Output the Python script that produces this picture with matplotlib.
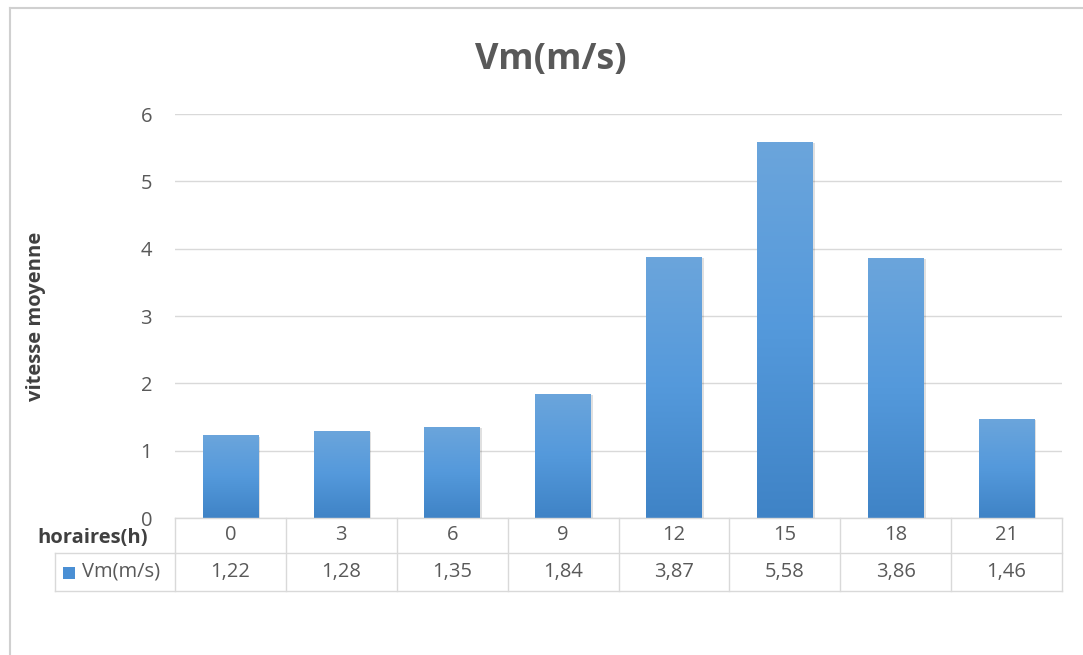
import numpy as np
import matplotlib
matplotlib.use("Agg")
import matplotlib.pyplot as plt
from matplotlib.patches import Rectangle
from matplotlib.lines import Line2D
from matplotlib.transforms import blended_transform_factory
from matplotlib.colors import LinearSegmentedColormap

hours = ["0", "3", "6", "9", "12", "15", "18", "21"]
vm = [1.22, 1.28, 1.35, 1.84, 3.87, 5.58, 3.86, 1.46]
vm_labels = ["1,22", "1,28", "1,35", "1,84", "3,87", "5,58", "3,86", "1,46"]
yticks = [0, 1, 2, 3, 4, 5, 6]
title = "Vm(m/s)"
ylabel = "vitesse moyenne"
row1_header = "horaires(h)"
row2_header = "Vm(m/s)"

plt.rcParams['font.family'] = ['Open Sans', 'DejaVu Sans']
W, H = 1083, 655
fig = plt.figure(figsize=(W / 100, H / 100), dpi=100)
fig.patch.set_facecolor("white")

FS = 14.5

def fx(px):
    return px / W

def fy(py):
    return 1 - py / H

# outer chart border
fig.add_artist(Line2D([fx(10), fx(10)], [fy(8), fy(655)], color="#D0D0D0", lw=1.5))
fig.add_artist(Line2D([fx(10), fx(1083)], [fy(8), fy(8)], color="#D0D0D0", lw=1.5))

left, right, top, bottom = 175, 1062, 114, 518
ax = fig.add_axes([fx(left), fy(bottom), fx(right - left), (bottom - top) / H])
for s in ax.spines.values():
    s.set_visible(False)
ax.set_xticks([])
ax.set_yticks(yticks)
ax.set_yticklabels([str(t) for t in yticks], color="#595959", fontsize=FS)
ax.tick_params(axis="y", length=0, pad=16.5)
ax.grid(axis="y", color="#D9D9D9", lw=1)
ax.set_axisbelow(True)

# gradient bars
grad = np.linspace(0, 1, 256).reshape(-1, 1)
cmap = LinearSegmentedColormap.from_list("g", ["#3F83C6", "#5499DB", "#6BA5DC"])
bw = 0.5
for i, v in enumerate(vm):
    ax.add_patch(Rectangle((i - bw / 2 + 0.02, 0), bw, v - 0.01, color="#000000",
                           alpha=0.12, lw=0, zorder=2))
    ax.imshow(grad, extent=(i - bw / 2, i + bw / 2, 0, v), origin="lower", cmap=cmap,
              aspect="auto", zorder=3, interpolation="bilinear")
ax.set_xlim(-0.5, len(hours) - 0.5)
ax.set_ylim(0, 6)

ax.set_ylabel(ylabel, fontsize=FS, fontweight="bold", color="#404040", labelpad=68)

# data table
tc = "#D9D9D9"
n = len(hours)
r0, r1, r2 = 518, 553, 591
colw = (right - left) / n
fig.add_artist(Line2D([fx(left), fx(right)], [fy(r0), fy(r0)], color=tc, lw=1))
fig.add_artist(Line2D([fx(left), fx(right)], [fy(r1), fy(r1)], color=tc, lw=1))
fig.add_artist(Line2D([fx(55), fx(left)], [fy(r1), fy(r1)], color=tc, lw=1))
fig.add_artist(Line2D([fx(55), fx(right)], [fy(r2), fy(r2)], color=tc, lw=1))
fig.add_artist(Line2D([fx(55), fx(55)], [fy(r1), fy(r2)], color=tc, lw=1))
for k in range(n + 1):
    x = left + k * colw
    fig.add_artist(Line2D([fx(x), fx(x)], [fy(r0), fy(r2)], color=tc, lw=1))

trans = blended_transform_factory(ax.transData, fig.transFigure)
for i in range(n):
    ax.text(i, fy((r0 + r1) / 2), hours[i], transform=trans, ha="center", va="center",
            fontsize=FS, color="#595959", clip_on=False)
    ax.text(i, fy((r1 + r2) / 2), vm_labels[i], transform=trans, ha="center", va="center",
            fontsize=FS, color="#595959", clip_on=False)

fig.text(fx(148), fy((r0 + r1) / 2 + 2), row1_header, ha="right", va="center",
         fontsize=FS, fontweight="bold", color="#404040")
fig.add_artist(Rectangle((fx(63), fy(579)), fx(12), 12 / H, color="#4A8FD4", lw=0))
fig.text(fx(82), fy((r1 + r2) / 2), row2_header, ha="left", va="center",
         fontsize=FS, color="#595959")

fig.text(fx(551), fy(60), title, ha="center", va="center", fontsize=26,
         fontweight="bold", color="#595959")

fig.savefig("out.png", dpi=100)
